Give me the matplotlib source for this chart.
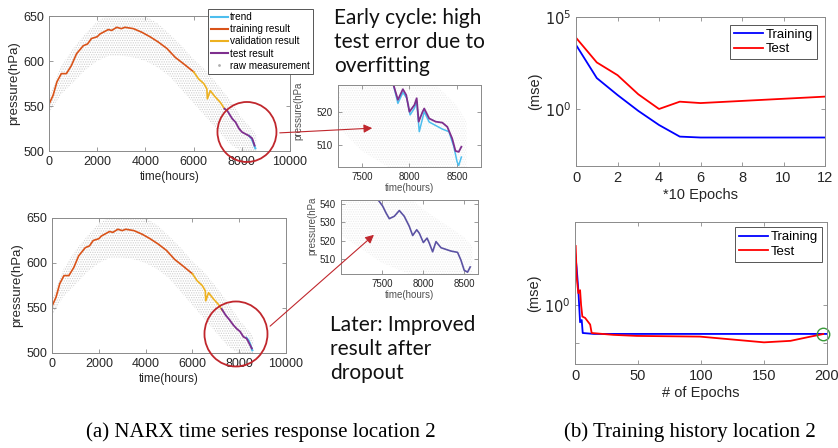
import matplotlib
matplotlib.use("Agg")
import matplotlib.pyplot as plt
import numpy as np
from matplotlib.lines import Line2D
from matplotlib.patches import Ellipse, FancyArrowPatch

# ---- data ----
train_t = [0, 170, 330, 510, 720, 930, 1140, 1420, 1600, 1760, 2000, 2110, 2460, 2600, 2810,
           3000, 3150, 3500, 3850, 4190, 4540, 4890, 5240, 5580, 6000]
train_p = [552, 562, 577, 586, 586, 595, 608, 617, 619, 625, 627, 630, 635, 634, 637.5,
           636, 637.5, 636, 632, 627, 621, 614, 604, 597, 588]
val_t = [6000, 6210, 6420, 6550, 6570, 6690, 6900, 7110, 7280]
val_p = [588, 580, 575, 569, 558, 567, 560, 554, 547]
test_t = [7280, 7390, 7600, 7740, 7880, 8010, 8150, 8290, 8430, 8530]
test_p = [547, 545, 536, 532, 525, 521, 519, 517, 514, 506]
test2_t = [7250, 7420, 7580, 7750, 7890, 8030, 8180, 8320, 8460, 8540]
test2_p = [549, 542, 537, 531, 527, 524, 518, 516, 509, 505]
trend_t = [8300, 8400, 8480, 8530, 8560]
trend_p = [517, 514, 509, 505, 503]

raw_t = [0, 500, 1000, 1500, 2000, 2500, 3000, 3500, 4000, 4500, 5000, 5500, 6000,
         6500, 7000, 7500, 8000, 8500, 8600]
raw_hi = [560, 594, 614, 630, 644, 652, 654, 654, 650, 642, 630, 617, 602, 590, 574, 557, 537, 522, 517]
raw_lo = [542, 563, 576, 590, 600, 606, 606, 604, 600, 593, 583, 568, 553, 538, 523, 508, 499, 495, 495]

i1_test_t = [7828, 7879, 7931, 7966, 8000, 8052, 8076, 8097, 8138, 8155, 8207, 8276, 8345,
             8397, 8448, 8483, 8517, 8545]
i1_test_p = [529, 523.9, 527.2, 525.4, 520.2, 522.3, 524.4, 517.1, 520.2, 521.2, 518.1, 517.1,
             516.8, 515.5, 511.9, 508, 507.7, 509.3]
i1_trend_t = [7828, 7879, 7931, 7972, 8007, 8052, 8076, 8103, 8155, 8207, 8345, 8414, 8466,
              8500, 8517, 8545]
i1_trend_p = [529, 522.8, 526.2, 524.4, 519.2, 521.3, 523.4, 514, 520.2, 517, 514.8, 514,
              509.3, 504.6, 503.5, 506.1]
i2_t = [7447, 7508, 7549, 7589, 7650, 7711, 7771, 7832, 7874, 7923, 7955, 8004, 8049, 8077,
        8117, 8158, 8219, 8340, 8421, 8462, 8502, 8543, 8575]
i2_p = [542.4, 538.7, 535, 531.9, 533.2, 536.3, 533.2, 527.8, 522.8, 525.9, 524, 519, 521.4,
        518.6, 514, 519.5, 516.2, 514.4, 513.7, 509.5, 504, 503, 505.8]

ep1 = [0, 1, 2, 3, 4, 5, 6, 12]
mse1_train = [3020, 47.9, 5.75, 0.79, 0.135, 0.0316, 0.0282, 0.0282]
mse1_test = [7410, 339, 69, 6.3, 1.0, 2.5, 2.1, 4.7]

ep2_train = [0, 1.3, 2.6, 4, 5.3, 6.1, 15, 200]
mse2_train = [2.63, 1.96, 1.32, 0.73, 0.76, 0.60, 0.59, 0.59]
ep2_test = [0.5, 1.3, 2.6, 4, 4.8, 5.8, 8, 12, 13.2, 30.5, 49, 99, 123, 150, 171, 187, 197]
mse2_test = [2.93, 1.67, 1.24, 1.31, 1.0, 0.81, 0.79, 0.70, 0.60, 0.58, 0.569, 0.562, 0.535,
             0.506, 0.52, 0.562, 0.589]

c_trend = '#4DBEEE'
c_train = '#D95319'
c_val = '#EDB120'
c_test = '#7E2F8E'
c_red = '#c0272d'

plt.rcParams['font.family'] = ['Liberation Sans', 'DejaVu Sans']
plt.rcParams['hatch.linewidth'] = 0.6

fig = plt.figure(figsize=(8.38, 4.48), dpi=100)


def style(ax, size):
    for s in ax.spines.values():
        s.set_color('#8a8a8a')
        s.set_linewidth(0.7)
    ax.tick_params(direction='in', top=True, right=True, labelsize=size,
                   colors='#8a8a8a', labelcolor='#262626', length=3, width=0.6)


def main_panel(rect, ttest, ptest):
    ax = fig.add_axes(rect)
    ax.fill_between(raw_t, raw_lo, raw_hi, facecolor='none', edgecolor='#cfcfcf',
                    hatch='.......', linewidth=0)
    ax.plot(trend_t, trend_p, color=c_trend, lw=1.5)
    ax.plot(train_t, train_p, color=c_train, lw=1.2)
    ax.plot(val_t, val_p, color=c_val, lw=1.2)
    ax.plot(ttest, ptest, color=c_test, lw=1.3)
    ax.set_xlim(0, 10000)
    ax.set_ylim(500, 650)
    ax.set_xticks([0, 2000, 4000, 6000, 8000, 10000])
    ax.set_yticks([500, 550, 600, 650])
    ax.set_xlabel('time(hours)', fontsize=8.5, labelpad=2, color='#262626')
    ax.set_ylabel('pressure(hPa)', fontsize=9.5, labelpad=2, color='#262626')
    style(ax, 9)
    return ax


ax1 = main_panel([0.0585, 0.6629, 0.2876, 0.3013], test_t, test_p)
ax2 = main_panel([0.0621, 0.2121, 0.2792, 0.3013], test2_t, test2_p)

handles = [Line2D([], [], color=c_trend, lw=1.5), Line2D([], [], color=c_train, lw=1.5),
           Line2D([], [], color=c_val, lw=1.5), Line2D([], [], color=c_test, lw=1.5),
           Line2D([], [], color='#b0b0b0', marker='.', ms=2, ls='none')]
leg = ax1.legend(handles, ['trend', 'training result', 'validation result', 'test result',
                           'raw measurement'],
                 loc='upper left', bbox_to_anchor=(0.2422, 0.991), bbox_transform=fig.transFigure,
                 fontsize=7.2, handlelength=1.7, handletextpad=0.2, labelspacing=0.22,
                 borderpad=0.3, fancybox=False, framealpha=1, edgecolor='#555555')
leg.get_frame().set_linewidth(0.7)

# insets
in1 = fig.add_axes([0.4033, 0.6272, 0.1706, 0.1830])
in1.fill_between(raw_t, raw_lo, raw_hi, facecolor='none', edgecolor='#ececec',
                 hatch='.......', linewidth=0)
in1.plot(i1_trend_t, i1_trend_p, color=c_trend, lw=1.1)
in1.plot(i1_test_t, i1_test_p, color=c_test, lw=1.3)
in1.set_xlim(7250, 8750)
in1.set_ylim(503, 528.5)
in1.set_xticks([7500, 8000, 8500])
in1.set_yticks([510, 520])
in1.set_xlabel('time(hours)', fontsize=7, labelpad=1, color='#505050')
in1.set_ylabel('pressure(hPa', fontsize=7, color='#505050')
in1.yaxis.set_label_coords(-0.245, 0.68)
style(in1, 7)

in2 = fig.add_axes([0.4069, 0.3884, 0.1635, 0.1652])
in2.fill_between(raw_t, raw_lo, raw_hi, facecolor='none', edgecolor='#ececec',
                 hatch='.......', linewidth=0)
in2.plot(i2_t, i2_p, color='#5b52a3', lw=1.2)
in2.set_xlim(7000, 8670)
in2.set_ylim(502, 542)
in2.set_xticks([7500, 8000, 8500])
in2.set_yticks([510, 520, 530, 540])
in2.set_xlabel('time(hours)', fontsize=7, labelpad=1, color='#505050')
in2.set_ylabel('pressure(hPa', fontsize=7, color='#505050')
in2.yaxis.set_label_coords(-0.175, 0.65)
style(in2, 7)

# right panels
b1 = fig.add_axes([0.6874, 0.6295, 0.2971, 0.3326])
b1.plot(ep1, mse1_train, color='#0000ff', lw=1.3, label='Training')
b1.plot(ep1, mse1_test, color='#ff0000', lw=1.3, label='Test')
b1.set_yscale('log')
b1.set_xlim(0, 12)
b1.set_ylim(8e-4, 1e5)
b1.set_xticks([0, 2, 4, 6, 8, 10, 12])
b1.set_yticks([1, 1e5])
b1.set_yticklabels(['$10^0$', '$10^5$'])
b1.yaxis.set_minor_locator(matplotlib.ticker.NullLocator())
b1.set_xlabel('*10 Epochs', fontsize=10.5, labelpad=2, color='#262626')
b1.set_ylabel('(mse)', fontsize=10.5, labelpad=2, color='#262626')
style(b1, 10.5)
l1 = b1.legend(loc='upper right', fontsize=9.5, handlelength=2.2, handletextpad=0.2,
               labelspacing=0.15, borderpad=0.3, fancybox=False, framealpha=1,
               edgecolor='#555555', borderaxespad=0.6)
l1.get_frame().set_linewidth(0.7)

b2 = fig.add_axes([0.6862, 0.1875, 0.3007, 0.3170])
b2.plot(ep2_train, mse2_train, color='#0000ff', lw=1.3, label='Training')
b2.plot(ep2_test, mse2_test, color='#ff0000', lw=1.3, label='Test')
b2.plot([ep2_test[-1]], [mse2_test[-1]], marker='o', ms=9, mfc='none', mec='#3a9a3a', mew=1,
        clip_on=False)
b2.set_yscale('log')
b2.set_xlim(0, 200)
b2.set_ylim(0.341, 4.54)
b2.set_xticks([0, 50, 100, 150, 200])
b2.set_yticks([1])
b2.set_yticklabels(['$10^0$'])
b2.yaxis.set_minor_locator(matplotlib.ticker.FixedLocator([0.5]))
b2.yaxis.set_minor_formatter(matplotlib.ticker.NullFormatter())
b2.set_xlabel('# of Epochs', fontsize=10.5, labelpad=2, color='#262626')
b2.set_ylabel('(mse)', fontsize=10.5, labelpad=2, color='#262626')
style(b2, 10.5)
b2.tick_params(which='minor', direction='in', length=3, width=0.6, colors='#8a8a8a', right=True)
l2 = b2.legend(handles=b2.get_lines()[:2], loc='upper right', fontsize=9.5, handlelength=2.2,
               handletextpad=0.2, labelspacing=0.15, borderpad=0.3, fancybox=False,
               framealpha=1, edgecolor='#555555', borderaxespad=0.4)
l2.get_frame().set_linewidth(0.7)

# circles and arrows
fig.add_artist(Ellipse((0.2947, 0.7054), 0.0704, 0.1339, transform=fig.transFigure,
                       fill=False, edgecolor=c_red, lw=1.3))
fig.add_artist(Ellipse((0.2816, 0.2545), 0.0752, 0.1451, transform=fig.transFigure,
                       fill=False, edgecolor=c_red, lw=1.3))
fig.add_artist(FancyArrowPatch((0.3305, 0.7031), (0.4475, 0.7143), transform=fig.transFigure,
                               arrowstyle='-|>,head_length=5,head_width=2.5', color=c_red, lw=0.8))
fig.add_artist(FancyArrowPatch((0.3198, 0.2679), (0.4487, 0.4799), transform=fig.transFigure,
                               arrowstyle='-|>,head_length=5,head_width=2.5', color=c_red, lw=0.8))

fig.text(0.3986, 0.982, 'Early cycle: high\ntest error due to\noverfitting', family='Lato',
         fontsize=15, va='top', ha='left', linespacing=1.25, color='#111111')
fig.text(0.3938, 0.297, 'Later: Improved\nresult after\ndropout', family='Lato',
         fontsize=15, va='top', ha='left', linespacing=1.25, color='#111111')

fig.text(0.3115, 0.036, '(a) NARX time series response location 2', family='Liberation Serif',
         fontsize=15, ha='center', va='center')
fig.text(0.8234, 0.036, '(b) Training history location 2', family='Liberation Serif',
         fontsize=15, ha='center', va='center')

fig.savefig('out.png', dpi=100)
